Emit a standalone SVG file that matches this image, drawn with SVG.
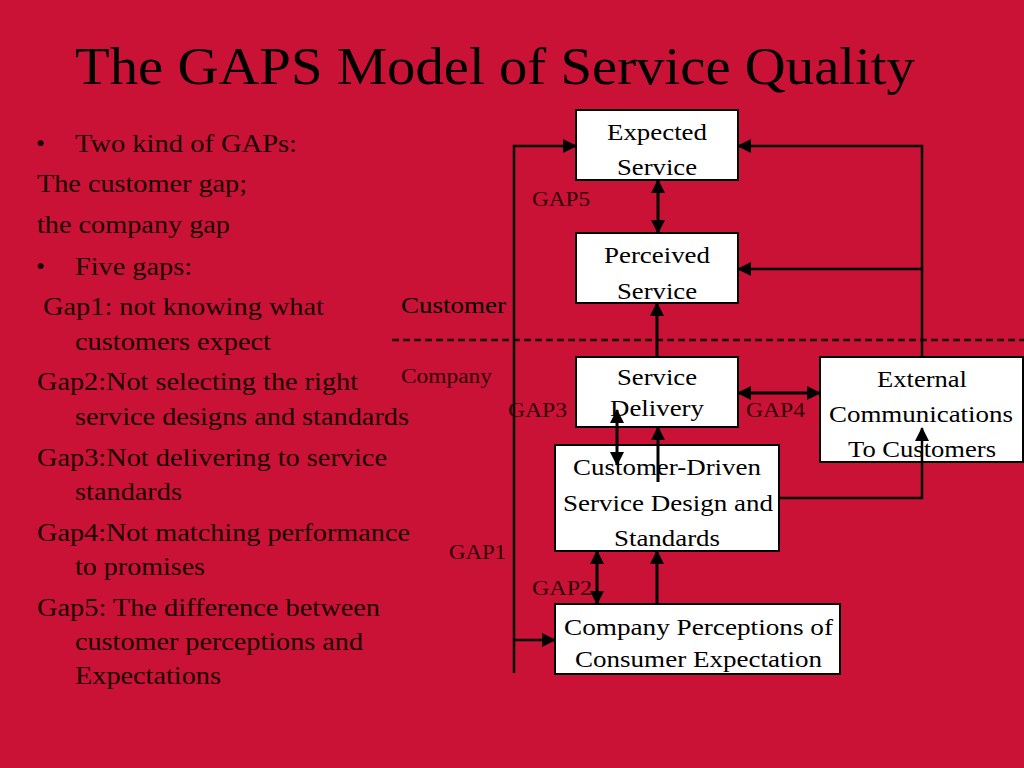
<svg xmlns="http://www.w3.org/2000/svg" width="1024" height="768" viewBox="0 0 1024 768">
<style>
.bg{fill:#CA1236}
.box{fill:#fff;stroke:#000;stroke-width:2}
.bt{font-family:"Liberation Serif","Times New Roman",serif;font-size:24px;fill:#000}
.lt{font-family:"Liberation Serif","Times New Roman",serif;font-size:25.5px;fill:#1a0003}
.gap{font-family:"Liberation Serif","Times New Roman",serif;font-size:20px;fill:#300008}
.title{font-family:"Liberation Serif","Times New Roman",serif;font-size:53px;fill:#000}
.ln{fill:none;stroke:#000;stroke-width:2.5}
.ar{fill:none;stroke:#000;stroke-width:3}
.dash{fill:none;stroke:#1a0003;stroke-width:2.5;stroke-dasharray:7 4}
</style>
<defs>
<marker id="ah" viewBox="0 0 14 14" refX="13" refY="7" markerWidth="14" markerHeight="14" markerUnits="userSpaceOnUse" orient="auto-start-reverse">
<path d="M0,0 L14,7 L0,14 z" fill="#000"/>
</marker>
</defs>
<rect class="bg" x="0" y="0" width="1024" height="768"/>
<text class="title" x="75" y="84" textLength="840" lengthAdjust="spacingAndGlyphs">The GAPS Model of Service Quality</text>

<g id="left-text">
<text class="lt" x="36" y="152">•</text>
<text class="lt" x="75" y="152" textLength="222" lengthAdjust="spacingAndGlyphs">Two kind of GAPs:</text>
<text class="lt" x="37" y="192" textLength="210" lengthAdjust="spacingAndGlyphs">The customer gap;</text>
<text class="lt" x="37" y="233" textLength="193" lengthAdjust="spacingAndGlyphs">the company gap</text>
<text class="lt" x="36" y="275">•</text>
<text class="lt" x="75" y="275" textLength="117" lengthAdjust="spacingAndGlyphs">Five gaps:</text>
<text class="lt" x="43" y="315" textLength="281" lengthAdjust="spacingAndGlyphs">Gap1: not knowing what</text>
<text class="lt" x="75" y="350" textLength="196" lengthAdjust="spacingAndGlyphs">customers expect</text>
<text class="lt" x="37" y="390" textLength="321" lengthAdjust="spacingAndGlyphs">Gap2:Not selecting the right</text>
<text class="lt" x="75" y="425" textLength="334" lengthAdjust="spacingAndGlyphs">service designs and standards</text>
<text class="lt" x="37" y="466" textLength="350" lengthAdjust="spacingAndGlyphs">Gap3:Not delivering to service</text>
<text class="lt" x="75" y="500" textLength="107" lengthAdjust="spacingAndGlyphs">standards</text>
<text class="lt" x="37" y="541" textLength="373" lengthAdjust="spacingAndGlyphs">Gap4:Not matching performance</text>
<text class="lt" x="75" y="575" textLength="130" lengthAdjust="spacingAndGlyphs">to promises</text>
<text class="lt" x="37" y="616" textLength="343" lengthAdjust="spacingAndGlyphs">Gap5: The difference between</text>
<text class="lt" x="75" y="650" textLength="288" lengthAdjust="spacingAndGlyphs">customer perceptions and</text>
<text class="lt" x="75" y="684" textLength="146" lengthAdjust="spacingAndGlyphs">Expectations</text>
</g>

<g id="zone-labels">
<path class="dash" d="M392,340 H1024"/>
<text class="bt" x="401" y="313" textLength="105" lengthAdjust="spacingAndGlyphs" fill="#1a0003">Customer</text>
<text class="gap" x="401" y="383" textLength="91" lengthAdjust="spacingAndGlyphs">Company</text>
</g>

<g id="node-expected">
<rect class="box" x="576" y="110" width="162" height="70"/>
<text class="bt" x="607" y="140" textLength="100" lengthAdjust="spacingAndGlyphs">Expected</text>
<text class="bt" x="617" y="175" textLength="80" lengthAdjust="spacingAndGlyphs">Service</text>
</g>
<g id="node-perceived">
<rect class="box" x="576" y="233" width="162" height="70"/>
<text class="bt" x="604" y="263" textLength="106" lengthAdjust="spacingAndGlyphs">Perceived</text>
<text class="bt" x="617" y="299" textLength="80" lengthAdjust="spacingAndGlyphs">Service</text>
</g>
<g id="node-delivery">
<rect class="box" x="576" y="357" width="162" height="70"/>
<text class="bt" x="617" y="385" textLength="80" lengthAdjust="spacingAndGlyphs">Service</text>
<text class="bt" x="610" y="416" textLength="94" lengthAdjust="spacingAndGlyphs">Delivery</text>
</g>
<g id="node-external">
<rect class="box" x="820" y="357" width="203" height="105"/>
<text class="bt" x="877" y="387" textLength="90" lengthAdjust="spacingAndGlyphs">External</text>
<text class="bt" x="829" y="422" textLength="184" lengthAdjust="spacingAndGlyphs">Communications</text>
<text class="bt" x="848" y="457" textLength="148" lengthAdjust="spacingAndGlyphs">To Customers</text>
</g>
<g id="node-design">
<rect class="box" x="555" y="445" width="224" height="106"/>
<text class="bt" x="573" y="475" textLength="188" lengthAdjust="spacingAndGlyphs">Customer-Driven</text>
<text class="bt" x="563" y="511" textLength="210" lengthAdjust="spacingAndGlyphs">Service Design and</text>
<text class="bt" x="614" y="546" textLength="106" lengthAdjust="spacingAndGlyphs">Standards</text>
</g>
<g id="node-perceptions">
<rect class="box" x="555" y="604" width="285" height="70"/>
<text class="bt" x="564" y="635" textLength="269" lengthAdjust="spacingAndGlyphs">Company Perceptions of</text>
<text class="bt" x="575" y="667" textLength="247" lengthAdjust="spacingAndGlyphs">Consumer Expectation</text>
</g>

<g id="connectors">
<path class="ln" d="M514,673 V146 H576" marker-end="url(#ah)"/>
<path class="ln" d="M514,640 H555" marker-end="url(#ah)"/>
<path class="ln" d="M922,357 V146 H738" marker-end="url(#ah)"/>
<path class="ln" d="M922,269 H738" marker-end="url(#ah)"/>
<path class="ln" d="M779,498 H922 V428" marker-end="url(#ah)"/>
<path class="ar" d="M658,180 V233" marker-start="url(#ah)" marker-end="url(#ah)"/>
<path class="ar" d="M657,357 V303" marker-end="url(#ah)"/>
<path class="ar" d="M738,393 H820" marker-start="url(#ah)" marker-end="url(#ah)"/>
<path class="ar" d="M617,410 V465" marker-start="url(#ah)" marker-end="url(#ah)"/>
<path class="ar" d="M658,482 V427" marker-end="url(#ah)"/>
<path class="ar" d="M597,551 V604" marker-start="url(#ah)" marker-end="url(#ah)"/>
<path class="ar" d="M657,604 V551" marker-end="url(#ah)"/>
</g>

<g id="gap-labels">
<text class="gap" x="532" y="206" textLength="58" lengthAdjust="spacingAndGlyphs">GAP5</text>
<text class="gap" x="508" y="417" textLength="59" lengthAdjust="spacingAndGlyphs">GAP3</text>
<text class="gap" x="746" y="417" textLength="59" lengthAdjust="spacingAndGlyphs">GAP4</text>
<text class="gap" x="449" y="559" textLength="57" lengthAdjust="spacingAndGlyphs">GAP1</text>
<text class="gap" x="532" y="595" textLength="60" lengthAdjust="spacingAndGlyphs">GAP2</text>
</g>
</svg>
